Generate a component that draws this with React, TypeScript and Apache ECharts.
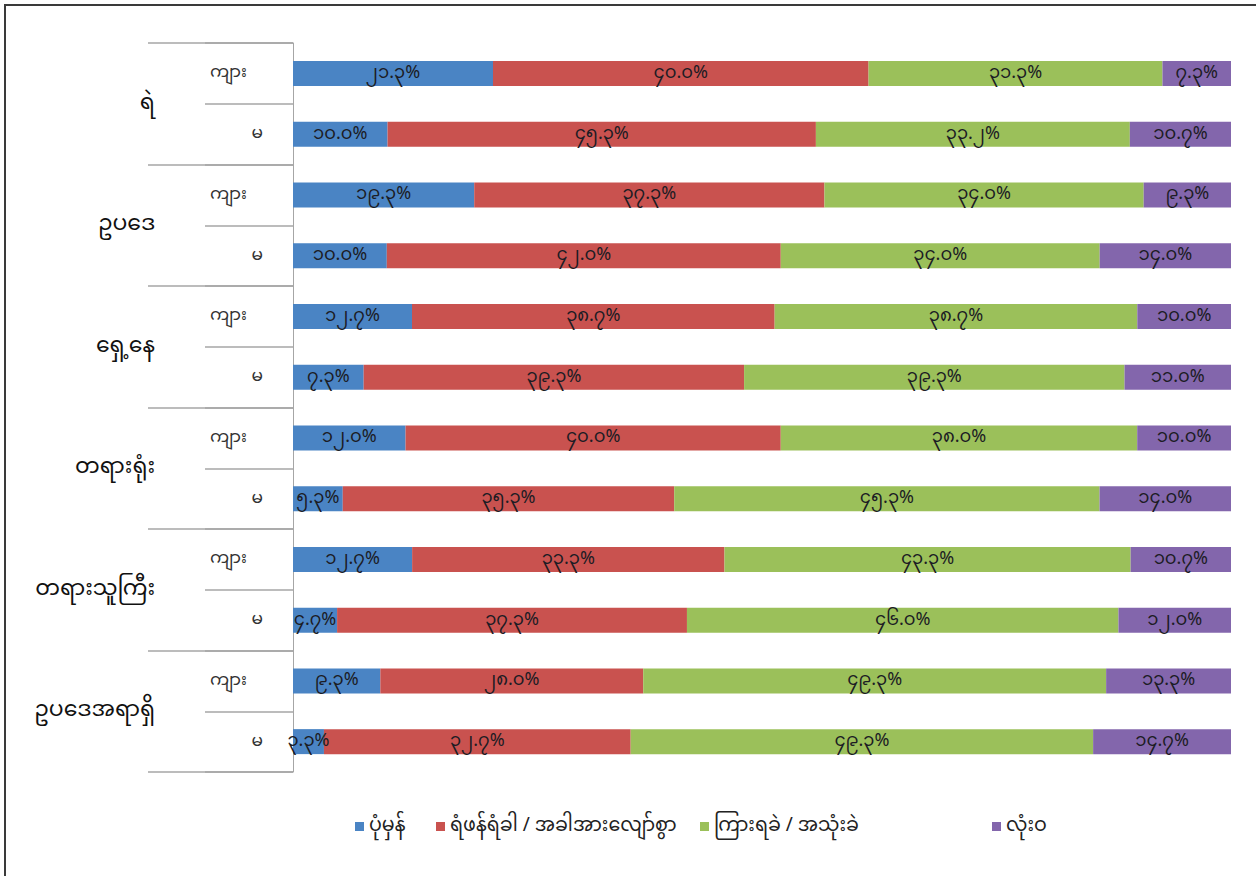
import React, { useEffect, useRef } from "react";
import * as echarts from "echarts";

const groups = ["ရဲ", "ဥပဒေ", "ရှေ့နေ", "တရားရုံး", "တရားသူကြီး", "ဥပဒေအရာရှိ"];
const sexes = ["ကျား", "မ", "ကျား", "မ", "ကျား", "မ", "ကျား", "မ", "ကျား", "မ", "ကျား", "မ"];
const seriesNames = ["ပုံမှန်", "ရံဖန်ရံခါ / အခါအားလျော်စွာ", "ကြားရခဲ / အသုံးခဲ", "လုံးဝ"];
const regular = [21.3, 10.0, 19.3, 10.0, 12.7, 7.3, 12.0, 5.3, 12.7, 4.7, 9.3, 3.3];
const sometimes = [40.0, 45.3, 37.3, 42.0, 38.7, 39.3, 40.0, 35.3, 33.3, 37.3, 28.0, 32.7];
const rarely = [31.3, 33.2, 34.0, 34.0, 38.7, 39.3, 38.0, 45.3, 43.3, 46.0, 49.3, 49.3];
const never = [7.3, 10.7, 9.3, 14.0, 10.0, 11.0, 10.0, 14.0, 10.7, 12.0, 13.3, 14.7];
const colors = ["#4A84C4", "#C9524F", "#9BC05A", "#8366AC"];
const legendLefts = [350, 431, 695, 987];

const MY_DIGITS = ["၀", "၁", "၂", "၃", "၄", "၅", "၆", "၇", "၈", "၉"];
const toMy = (v: number) =>
  v.toFixed(1).replace(/[0-9]/g, (d) => MY_DIGITS[Number(d)]) + "%";

const FONT = "'Noto Sans Myanmar', 'Padauk', 'Myanmar Text', 'Noto Sans', sans-serif";

export default function App() {
  const ref = useRef<HTMLDivElement>(null);
  useEffect(() => {
    if (!ref.current) return;
    const chart = echarts.init(ref.current, null, { renderer: "svg" });
    const all = [regular, sometimes, rarely, never];
    const sums = sexes.map((_, i) => all.reduce((s, arr) => s + arr[i], 0));
    const series = all.map((arr, si) => ({
      name: seriesNames[si],
      type: "bar",
      stack: "total",
      yAxisIndex: 0,
      barWidth: 25,
      itemStyle: { color: colors[si] },
      label: {
        show: true,
        position: "inside",
        color: "#1c1c24",
        fontSize: 18,
        fontFamily: FONT,
        formatter: (p: any) => toMy(arr[p.dataIndex]),
      },
      data: arr.map((v, i) => (v / sums[i]) * 100),
    }));
    chart.setOption({
      animation: false,
      backgroundColor: "#ffffff",
      textStyle: { fontFamily: FONT },
      grid: { left: 293, right: 25, top: 43, bottom: 104, containLabel: false },
      xAxis: {
        type: "value",
        min: 0,
        max: 100,
        show: false,
        splitLine: { show: false },
      },
      yAxis: [
        {
          type: "category",
          inverse: true,
          position: "left",
          data: sexes,
          axisLine: { show: true, lineStyle: { color: "#a6a6a6", width: 1 } },
          axisTick: { show: true, length: 88, lineStyle: { color: "#a6a6a6", width: 1.5 } },
          axisLabel: {
            margin: 30,
            fontSize: 17,
            color: "#333333",
            fontFamily: FONT,
            formatter: (v: string) => (v === "ကျား" ? "{a|" + v + "}" : "{b|" + v + "}"),
            rich: {
              a: { fontSize: 17, color: "#333333", fontFamily: FONT, padding: [0, 16, 0, 0] },
              b: { fontSize: 17, color: "#333333", fontFamily: FONT },
            },
          },
        },
        {
          type: "category",
          inverse: true,
          position: "left",
          data: groups,
          axisLine: { show: false },
          axisTick: { show: true, length: 145, lineStyle: { color: "#a6a6a6", width: 1.5 } },
          axisLabel: {
            margin: 138,
            fontSize: 22,
            color: "#111111",
            fontFamily: FONT,
          },
        },
      ],
      legend: seriesNames.map((n, i) => ({
        left: legendLefts[i],
        top: 812,
        itemWidth: 9,
        itemHeight: 9,
        icon: "rect",
        textStyle: { fontSize: 19, color: "#222222", fontFamily: FONT },
        data: [n],
      })),
      graphic: [
        {
          type: "rect",
          shape: { x: 5, y: 5, width: 1300, height: 900 },
          style: { fill: "none", stroke: "#3a3a3a", lineWidth: 2 },
          silent: true,
        },
      ],
      series,
    });
    return () => chart.dispose();
  }, []);
  return (
    <div
      ref={ref}
      style={{ position: "fixed", left: 0, top: 0, width: 1256, height: 876 }}
    />
  );
}
